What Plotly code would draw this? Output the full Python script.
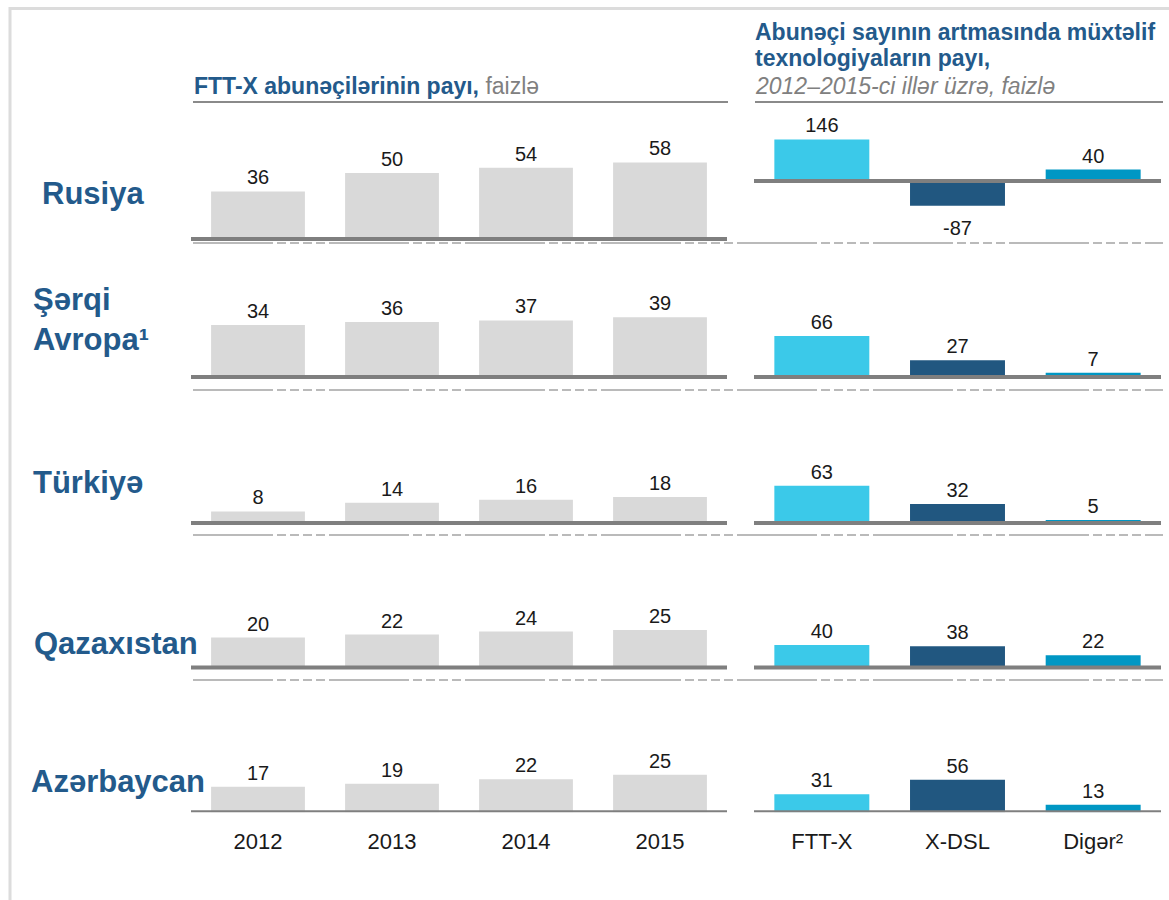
import plotly.graph_objects as go

# ---------------- data ----------------
countries = ["Rusiya", "Şərqi<br>Avropa¹", "Türkiyə", "Qazaxıstan", "Azərbaycan"]
years = ["2012", "2013", "2014", "2015"]
techs = ["FTT-X", "X-DSL", "Digər²"]

ftt_share_rusiya = [36, 50, 54, 58]
ftt_share_serqi_avropa = [34, 36, 37, 39]
ftt_share_turkiye = [8, 14, 16, 18]
ftt_share_qazaxistan = [20, 22, 24, 25]
ftt_share_azerbaycan = [17, 19, 22, 25]

growth_rusiya = [146, -87, 40]
growth_serqi_avropa = [66, 27, 7]
growth_turkiye = [63, 32, 5]
growth_qazaxistan = [40, 38, 22]
growth_azerbaycan = [31, 56, 13]

left_values = [ftt_share_rusiya, ftt_share_serqi_avropa, ftt_share_turkiye,
               ftt_share_qazaxistan, ftt_share_azerbaycan]
right_values = [growth_rusiya, growth_serqi_avropa, growth_turkiye,
                growth_qazaxistan, growth_azerbaycan]

# ---------------- layout constants ----------------
W, H = 1169, 900
FONT = "Liberation Sans, Arial, Helvetica, sans-serif"
BLUE_TXT = "#235a8b"
GRAY_TXT = "#808080"
DARK_TXT = "#1a1a1a"
BAR_GRAY = "#d9d9d9"
TECH_COLORS = ["#3bc9e9", "#215780", "#0097c4"]
BASE_COLOR = "#7f7f7f"

left_base_px = [239, 377, 523, 667.5, 812.3]
right_base_px = [181, 377, 523, 667.5, 812.3]
left_px_per_unit = [1.32, 1.53, 1.45, 1.5, 1.5]
right_px_per_unit = [0.285, 0.62, 0.59, 0.56, 0.58]
left_x_px = (191, 727)
right_x_px = (754, 1161)
separator_px = [243, 390, 535, 680]
label_pos = [(40, 193), (31, 319), (31, 483), (32, 643), (29, 781)]


def px_y(p):
    return 1 - p / H


def px_x(p):
    return p / W


fig = go.Figure()
shapes = []
annotations = []
layout_axes = {}

for r in range(5):
    for side in range(2):
        n = 2 * r + side + 1
        xa = "x" if n == 1 else f"x{n}"
        ya = "y" if n == 1 else f"y{n}"
        xname = "xaxis" if n == 1 else f"xaxis{n}"
        yname = "yaxis" if n == 1 else f"yaxis{n}"
        if side == 0:
            cats, vals = years, left_values[r]
            colors = [BAR_GRAY] * len(cats)
            base, scale = left_base_px[r], left_px_per_unit[r]
            xpx = left_x_px
        else:
            cats, vals = techs, right_values[r]
            colors = TECH_COLORS
            base, scale = right_base_px[r], right_px_per_unit[r]
            xpx = right_x_px
        top = base - 105
        bottom = base if r == 4 else base + 25
        if side == 1 and r == 0:
            bottom = base + 50

        texts = [str(v) if v >= 0 else "" for v in vals]
        fig.add_trace(go.Bar(
            x=cats, y=vals, marker=dict(color=colors, line=dict(width=0)),
            width=0.7, text=texts, textposition="outside", cliponaxis=False,
            textfont=dict(family=FONT, size=20, color=DARK_TXT),
            xaxis=xa, yaxis=ya, showlegend=False, hoverinfo="skip",
        ))
        # labels for negative bars sit further below the bar
        for c, v in zip(cats, vals):
            if v < 0:
                annotations.append(dict(
                    text=str(v), x=c, y=v, xref=xa, yref=ya, xanchor="center",
                    yanchor="top", yshift=-9, showarrow=False,
                    font=dict(family=FONT, size=20, color=DARK_TXT)))
        layout_axes[xname] = dict(
            domain=[px_x(xpx[0]), px_x(xpx[1])], anchor=ya,
            range=[-0.5, len(cats) - 0.5], showgrid=False, zeroline=False,
            showline=False, ticks="", showticklabels=(r == 4),
            tickfont=dict(family=FONT, size=22, color=DARK_TXT),
            ticklabelstandoff=14, fixedrange=True,
        )
        layout_axes[yname] = dict(
            domain=[px_y(bottom), px_y(top)], anchor=xa,
            range=[-(bottom - base) / scale, (base - top) / scale],
            visible=False, fixedrange=True,
        )
        shapes.append(dict(
            type="line", xref=f"{xa} domain", yref=ya, x0=0, x1=1, y0=0, y1=0,
            line=dict(color=BASE_COLOR, width=4), layer="above",
        ))

# separators (dash-dot pattern)
for sp in separator_px:
    shapes.append(dict(
        type="line", xref="paper", yref="paper",
        x0=px_x(193), x1=px_x(1163), y0=px_y(sp), y1=px_y(sp),
        line=dict(color="#a4a4a4", width=1.5,
                  dash="80px,4px,9px,4px,9px,4px,9px,4px,9px,4px"),
        layer="below",
    ))

# header underlines
shapes.append(dict(type="line", xref="paper", yref="paper",
                   x0=px_x(193), x1=px_x(728), y0=px_y(102), y1=px_y(102),
                   line=dict(color="#8a8a8a", width=2)))
shapes.append(dict(type="line", xref="paper", yref="paper",
                   x0=px_x(755), x1=px_x(1163), y0=px_y(102), y1=px_y(102),
                   line=dict(color="#8a8a8a", width=2)))

# outer frame
shapes.append(dict(type="rect", xref="paper", yref="paper",
                   x0=px_x(10), x1=px_x(1180), y0=px_y(910), y1=px_y(8.5),
                   line=dict(color="#dcdcdc", width=3), layer="below"))

# headers
annotations.append(dict(
    text=f"<b>FTT-X abunəçilərinin payı,</b> <span style='color:{GRAY_TXT}'>faizlə</span>",
    xref="paper", yref="paper", x=px_x(192), y=px_y(86), xanchor="left", yanchor="middle",
    showarrow=False, font=dict(family=FONT, size=23, color=BLUE_TXT)))
annotations.append(dict(
    text="<b>Abunəçi sayının artmasında müxtəlif</b>",
    xref="paper", yref="paper", x=px_x(753), y=px_y(32), xanchor="left", yanchor="middle",
    showarrow=False, font=dict(family=FONT, size=23, color=BLUE_TXT)))
annotations.append(dict(
    text="<b>texnologiyaların payı,</b>",
    xref="paper", yref="paper", x=px_x(753), y=px_y(58), xanchor="left", yanchor="middle",
    showarrow=False, font=dict(family=FONT, size=23, color=BLUE_TXT)))
annotations.append(dict(
    text="<i>2012–2015-ci illər üzrə, faizlə</i>",
    xref="paper", yref="paper", x=px_x(753), y=px_y(86), xanchor="left", yanchor="middle",
    showarrow=False, font=dict(family=FONT, size=23, color=GRAY_TXT)))

# row labels
for name, (lx, ly) in zip(countries, label_pos):
    annotations.append(dict(
        text=f"<b>{name}</b>", xref="paper", yref="paper", x=px_x(lx), y=px_y(ly),
        xanchor="left", yanchor="middle", align="left", showarrow=False,
        font=dict(family=FONT, size=31, color=BLUE_TXT)))

fig.update_layout(
    width=W, height=H, margin=dict(l=0, r=0, t=0, b=0),
    paper_bgcolor="white", plot_bgcolor="rgba(0,0,0,0)",
    shapes=shapes, annotations=annotations, bargap=0.3,
    **layout_axes,
)

fig.write_html("out.html", config={"displayModeBar": False},
               post_script="document.body.style.margin='0';")
